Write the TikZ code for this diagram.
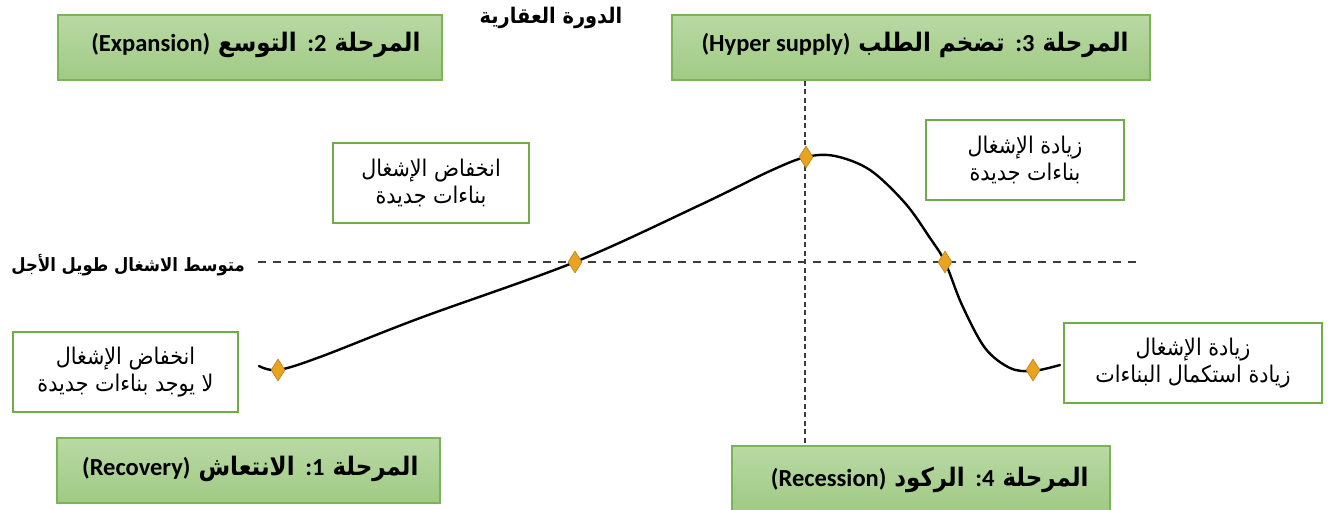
\documentclass[tikz,border=0pt]{standalone}
\usepackage{fontspec}
\usetikzlibrary{shapes.geometric}
\setmainfont{Liberation Sans}
\newfontfamily\arabicfont[Script=Arabic, FakeStretch=0.9]{DejaVu Sans}
\newfontfamily\calib{Carlito}
\TeXXeTstate=1

\definecolor{phasetop}{RGB}{185,217,165}
\definecolor{phasebot}{RGB}{160,202,132}
\definecolor{phaseedge}{RGB}{122,180,86}
\definecolor{boxedge}{RGB}{112,173,71}
\definecolor{markfill}{RGB}{232,163,32}
\definecolor{markedge}{RGB}{190,125,20}
\definecolor{guide}{RGB}{60,60,60}

\tikzset{
  phasebox/.style={draw=phaseedge, line width=1.4pt, top color=phasetop, bottom color=phasebot, inner sep=0pt},
  phasetext/.style={inner sep=0pt, anchor=east, font=\arabicfont\bfseries\fontsize{25.5}{29}\selectfont},
  notebox/.style={draw=boxedge, line width=2.4pt, fill=white, align=center, inner sep=0pt,
    minimum height=80pt, font=\arabicfont\fontsize{23}{27}\selectfont},
  marker/.style={diamond, draw=markedge, fill=markfill, line width=0.6pt, inner sep=0pt,
    minimum width=14pt, minimum height=22pt},
  cycle curve/.style={line width=2.4pt, black, line cap=round},
  guideline/.style={guide, line width=1.3pt, dash pattern=on 8pt off 7pt},
  axisline/.style={guide, line width=2pt, dash pattern=on 5pt off 3.5pt},
}
% Latin runs inside right-to-left text
\newcommand{\lat}[1]{{\calib\bfseries\fontsize{24.5}{27}\selectfont\beginL #1\endL}}

\begin{document}
\begin{tikzpicture}[x=1pt, y=-1pt]
\useasboundingbox (0,0) rectangle (1332,509);

% title
\node[font=\arabicfont\bfseries\fontsize{21.5}{25}\selectfont, inner sep=0pt] (title) at (551,18)
  {\beginR الدورة العقارية\endR};

% the four phases
\node[phasebox, minimum width=384pt, minimum height=65pt] (p2) at (250,47.5) {};
\node[phasetext] (p2t) at ([xshift=-22pt, yshift=2.5pt]p2.east)
  {\beginR المرحلة \lat{2}\lat{:} التوسع \lat{(Expansion)}\endR};

\node[phasebox, minimum width=478pt, minimum height=65pt] (p3) at (911,47.5) {};
\node[phasetext] (p3t) at ([xshift=-22pt, yshift=2.5pt]p3.east)
  {\beginR المرحلة \lat{3}\lat{:} تضخم الطلب \lat{(Hyper supply)}\endR};

\node[phasebox, minimum width=383pt, minimum height=65pt] (p1) at (248.5,470.5) {};
\node[phasetext] (p1t) at ([xshift=-22pt, yshift=2pt]p1.east)
  {\beginR المرحلة \lat{1}\lat{:} الانتعاش \lat{(Recovery)}\endR};

\node[phasebox, minimum width=378pt, minimum height=65pt] (p4) at (921,478.5) {};
\node[phasetext] (p4t) at ([xshift=-22pt, yshift=-1pt]p4.east)
  {\beginR المرحلة \lat{4}\lat{:} الركود \lat{(Recession)}\endR};

% long-run average occupancy
\node[font=\arabicfont\bfseries\fontsize{18.3}{21}\selectfont, inner sep=0pt, anchor=east] (avg) at (245,265)
  {\beginR متوسط الاشغال طويل الأجل\endR};
\coordinate (avgend) at (1140,262);
\draw[guideline] (258,262) -- (avgend);

% vertical axis through the peak
\draw[axisline] (p3.south -| 805,0) -- (p4.north -| 805,0);

% the cycle curve
\draw[cycle curve] plot[smooth, tension=0.55] coordinates {
  (259,366) (278,370) (320,357) (420,318) (575,262) (700,205) (770,171) (806,157)
  (835,156) (870,170) (905,203) (930,238) (945,262) (962,305) (985,348) (1010,368)
  (1033,371) (1060,365)};

\node[marker] (m1) at (278,370) {};
\node[marker] (m2) at (575,262) {};
\node[marker] (m3) at (806,157) {};
\node[marker] (m4) at (945,262) {};
\node[marker] (m5) at (1033,370) {};

% notes
\node[notebox, minimum width=225pt] (n1) at (125.5,372)
  {\beginR انخفاض الإشغال\endR\\\beginR لا يوجد بناءات جديدة\endR};
\node[notebox, minimum width=196pt] (n2) at (431,183)
  {\beginR انخفاض الإشغال\endR\\\beginR بناءات جديدة\endR};
\node[notebox, minimum width=198pt] (n3) at (1025,160)
  {\beginR زيادة الإشغال\endR\\\beginR بناءات جديدة\endR};
\node[notebox, minimum width=258pt] (n4) at (1193,363)
  {\beginR زيادة الإشغال\endR\\\beginR زيادة استكمال البناءات\endR};
\end{tikzpicture}
\end{document}
